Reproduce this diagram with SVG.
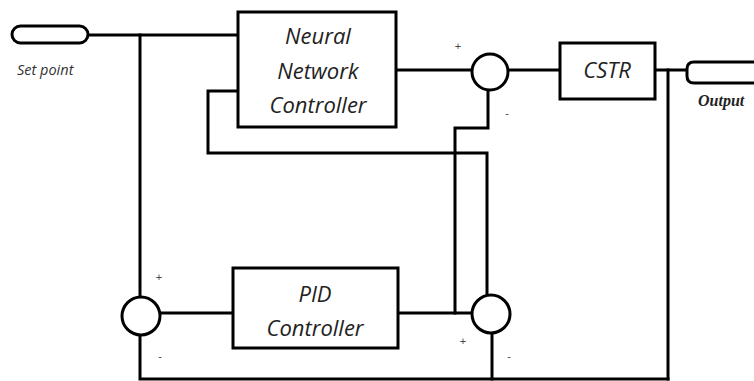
<svg xmlns="http://www.w3.org/2000/svg" width="754" height="381" viewBox="0 0 754 381">
<style>
.ln{fill:none;stroke:#000;stroke-width:3;stroke-linejoin:miter;stroke-linecap:square}
.bx{fill:#fff;stroke:#000;stroke-width:3}
.lbl{font-family:"Open Sans","Liberation Sans",sans-serif;font-style:italic;font-size:22px;fill:#222;text-anchor:middle}
.sm{font-family:"Open Sans","Liberation Sans",sans-serif;font-style:italic;font-size:14.5px;fill:#333}
.sg{font-family:"Liberation Sans",sans-serif;font-size:11px;fill:#444;text-anchor:middle}
.out{font-family:"Liberation Serif","DejaVu Serif",serif;font-style:italic;font-weight:bold;font-size:16px;fill:#222}
</style>
<rect width="754" height="381" fill="#fff"/>
<g id="connectors">
<path class="ln" d="M88 35 H238"/>
<path class="ln" d="M140 35 V297"/>
<path class="ln" d="M140 335 V379 H668"/>
<path class="ln" d="M160 313 H233"/>
<path class="ln" d="M398 313 H473"/>
<path class="ln" d="M455 313 V128 H488 V90"/>
<path class="ln" d="M238 91 H208 V153 H487 V295"/>
<path class="ln" d="M492 333 V379"/>
<path class="ln" d="M396 70 H471"/>
<path class="ln" d="M507 70 H560"/>
<path class="ln" d="M655 70 H687"/>
<path class="ln" d="M668 70 V379"/>
</g>
<g id="setpoint">
<rect class="bx" x="12" y="26" width="76" height="17" rx="8.5"/>
<text class="sm" x="17" y="75">Set point</text>
</g>
<g id="nn">
<rect class="bx" x="238" y="12" width="158" height="115"/>
<text class="lbl" x="318" y="44">Neural</text>
<text class="lbl" x="318" y="79">Network</text>
<text class="lbl" x="318" y="113">Controller</text>
</g>
<g id="sum-top">
<circle class="bx" cx="490" cy="72" r="18"/>
<text class="sg" x="458" y="50">+</text>
<text class="sg" x="507" y="117">-</text>
</g>
<g id="cstr">
<rect class="bx" x="560" y="43" width="95" height="56"/>
<text class="lbl" x="607" y="78">CSTR</text>
</g>
<g id="output">
<path class="bx" d="M760 62 H694 Q687 62 687 69 V76 Q687 83 694 83 H760"/>
<text class="out" x="698" y="106">Output</text>
</g>
<g id="sum-left">
<circle class="bx" cx="141" cy="316" r="19"/>
<text class="sg" x="159" y="281">+</text>
<text class="sg" x="160" y="360">-</text>
</g>
<g id="pid">
<rect class="bx" x="233" y="268" width="165" height="80"/>
<text class="lbl" x="315" y="302">PID</text>
<text class="lbl" x="315" y="336">Controller</text>
</g>
<g id="sum-right">
<circle class="bx" cx="491" cy="314" r="19"/>
<text class="sg" x="463" y="345">+</text>
<text class="sg" x="509" y="360">-</text>
</g>
</svg>
